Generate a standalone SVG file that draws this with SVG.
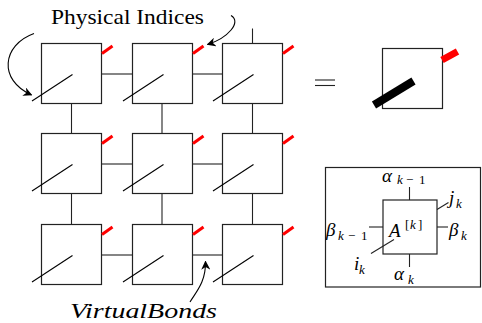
<svg xmlns="http://www.w3.org/2000/svg" width="482" height="323" viewBox="0 0 482 323">
<style>
.box{fill:#fff;stroke:#222;stroke-width:1.2}
.ln{stroke:#222;stroke-width:1.1;fill:none}
.dg{stroke:#000;stroke-width:1.1;fill:none}
.rd{stroke:#f00;stroke-width:3;fill:none}
.arr{stroke:#000;stroke-width:1.1;fill:none;marker-end:url(#ah)}
text{font-family:'Liberation Serif','DejaVu Serif',serif;fill:#000}
.m{font-style:italic}
.s{font-size:13px}
.b{font-size:19px}
</style>
<defs>
<marker id="ah" viewBox="0 0 10 10" refX="9" refY="5" markerWidth="9" markerHeight="9" markerUnits="userSpaceOnUse" orient="auto">
<path d="M0,0 L10,5 L0,10 L3,5 Z" fill="#000"/>
</marker>
</defs>
<g id="connectors">
<line class="ln" x1="101.5" y1="74" x2="132.5" y2="74"/>
<line class="ln" x1="192.5" y1="74" x2="222.5" y2="74"/>
<line class="ln" x1="101.5" y1="164" x2="132.5" y2="164"/>
<line class="ln" x1="192.5" y1="164" x2="222.5" y2="164"/>
<line class="ln" x1="101.5" y1="255" x2="132.5" y2="255"/>
<line class="ln" x1="192.5" y1="255" x2="222.5" y2="255"/>
<line class="ln" x1="71.5" y1="103.5" x2="71.5" y2="133.5"/>
<line class="ln" x1="162" y1="103.5" x2="162" y2="133.5"/>
<line class="ln" x1="252.5" y1="103.5" x2="252.5" y2="133.5"/>
<line class="ln" x1="71.5" y1="193.5" x2="71.5" y2="224.5"/>
<line class="ln" x1="162" y1="193.5" x2="162" y2="224.5"/>
<line class="ln" x1="252.5" y1="193.5" x2="252.5" y2="224.5"/>
<line class="ln" x1="252.5" y1="28.5" x2="252.5" y2="43.5"/>
</g>
<g id="n11"><rect class="box" x="41.5" y="43.5" width="60" height="60"/><line class="dg" x1="32" y1="101" x2="72.5" y2="74.5"/><line class="rd" x1="102" y1="53.5" x2="112.5" y2="46"/></g>
<g id="n12"><rect class="box" x="132.5" y="43.5" width="60" height="60"/><line class="dg" x1="123" y1="101" x2="163.5" y2="74.5"/><line class="rd" x1="193" y1="53.5" x2="203.5" y2="46"/></g>
<g id="n13"><rect class="box" x="222.5" y="43.5" width="60" height="60"/><line class="dg" x1="213" y1="101" x2="253.5" y2="74.5"/><line class="rd" x1="283" y1="53.5" x2="293.5" y2="46"/></g>
<g id="n21"><rect class="box" x="41.5" y="133.5" width="60" height="60"/><line class="dg" x1="32" y1="191" x2="72.5" y2="164.5"/><line class="rd" x1="102" y1="143.5" x2="112.5" y2="136"/></g>
<g id="n22"><rect class="box" x="132.5" y="133.5" width="60" height="60"/><line class="dg" x1="123" y1="191" x2="163.5" y2="164.5"/><line class="rd" x1="193" y1="143.5" x2="203.5" y2="136"/></g>
<g id="n23"><rect class="box" x="222.5" y="133.5" width="60" height="60"/><line class="dg" x1="213" y1="191" x2="253.5" y2="164.5"/><line class="rd" x1="283" y1="143.5" x2="293.5" y2="136"/></g>
<g id="n31"><rect class="box" x="41.5" y="224.5" width="60" height="60"/><line class="dg" x1="32" y1="282" x2="72.5" y2="255.5"/><line class="rd" x1="102" y1="234.5" x2="112.5" y2="227"/></g>
<g id="n32"><rect class="box" x="132.5" y="224.5" width="60" height="60"/><line class="dg" x1="123" y1="282" x2="163.5" y2="255.5"/><line class="rd" x1="193" y1="234.5" x2="203.5" y2="227"/></g>
<g id="n33"><rect class="box" x="222.5" y="224.5" width="60" height="60"/><line class="dg" x1="213" y1="282" x2="253.5" y2="255.5"/><line class="rd" x1="283" y1="234.5" x2="293.5" y2="227"/></g>
<g id="labels">
<text x="51" y="23.5" font-size="21" textLength="153" lengthAdjust="spacingAndGlyphs">Physical Indices</text>
<path class="arr" d="M34,33.5 C2,45 -2,80 31.5,95"/>
<path class="arr" d="M231,15.5 C242,22 228,38 207.5,44.5"/>
<path class="arr" d="M190,302 C196,292 206,282 205.5,261.5"/>
<text class="m" x="70" y="318" font-size="21" textLength="147" lengthAdjust="spacingAndGlyphs">VirtualBonds</text>
</g>
<g id="equals">
<line class="ln" x1="315" y1="80" x2="335" y2="80"/>
<line class="ln" x1="315" y1="85.5" x2="335" y2="85.5"/>
</g>
<g id="tensor">
<rect class="box" x="382.5" y="48.5" width="60" height="60"/>
<line stroke="#000" stroke-width="8" x1="374" y1="105" x2="413.5" y2="81"/>
<line stroke="#f00" stroke-width="7" x1="442" y1="60" x2="457.5" y2="51.5"/>
</g>
<g id="inset">
<rect class="box" x="325.5" y="167.5" width="155" height="119.5"/>
<rect class="box" x="383" y="200" width="54" height="54"/>
<line class="ln" x1="409.5" y1="187" x2="409.5" y2="200"/>
<line class="ln" x1="409.5" y1="254" x2="409.5" y2="267"/>
<line class="ln" x1="369" y1="227" x2="383" y2="227"/>
<line class="ln" x1="437" y1="227" x2="448" y2="227"/>
<line class="ln" x1="437" y1="209.5" x2="448.5" y2="202.5"/>
<line class="ln" x1="371" y1="253.5" x2="394" y2="239.5"/>
<text class="m b" x="382" y="182">α</text><text class="m s" x="397" y="184">k</text><text class="s" x="406" y="184">−</text><text class="s" x="419" y="184">1</text>
<text class="m b" x="449" y="204">j</text><text class="m s" x="456" y="208">k</text>
<text class="m b" x="389" y="237">A</text><text class="s" x="405" y="229">[</text><text class="m s" x="410" y="229">k</text><text class="s" x="418" y="229">]</text>
<text class="m b" x="326" y="236">β</text><text class="m s" x="338" y="240">k</text><text class="s" x="348" y="240">−</text><text class="s" x="361" y="240">1</text>
<text class="m b" x="449" y="236">β</text><text class="m s" x="461" y="240">k</text>
<text class="m b" x="354" y="270">i</text><text class="m s" x="359" y="274">k</text>
<text class="m b" x="394" y="280">α</text><text class="m s" x="408" y="284">k</text>
</g>
</svg>
